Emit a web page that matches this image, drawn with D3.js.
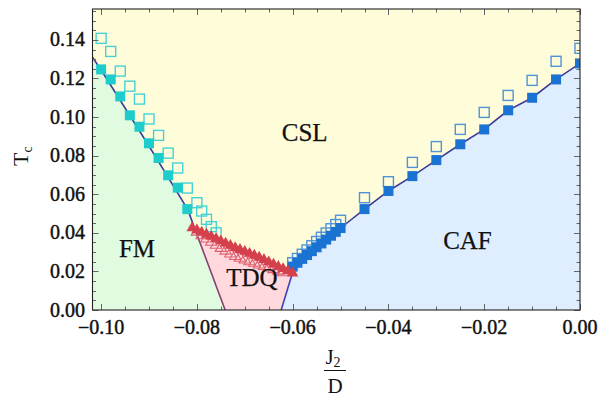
<!DOCTYPE html>
<html><head><meta charset="utf-8">
<script src="https://cdn.jsdelivr.net/npm/d3@7"></script>
<style>body{margin:0;background:#fff}svg{display:block}</style>
</head><body><svg id="c" width="610" height="401"></svg>
<script>
// ---------- data ----------
const xTicks = [-0.10, -0.08, -0.06, -0.04, -0.02, 0.00];
const yTicks = [0.00, 0.02, 0.04, 0.06, 0.08, 0.10, 0.12, 0.14];
const regionLabels = ["CSL", "FM", "TDQ", "CAF"];
const regionLabelX = [-0.0575, -0.0925, -0.0685, -0.0235];
const regionLabelY = [0.0875, 0.0275, 0.0125, 0.0315];

// FM: filled (Tc lower) and open (Tc upper) squares
const fmX      = [-0.100, -0.098, -0.096, -0.094, -0.092, -0.090, -0.088, -0.086, -0.084, -0.082];
const fmFilled = [0.1247, 0.1195, 0.1107, 0.1009, 0.0950, 0.0864, 0.0788, 0.0698, 0.0634, 0.0523];
const fmOpenX  = [-0.100, -0.098, -0.096, -0.094, -0.092, -0.090, -0.088, -0.086, -0.084, -0.082, -0.080, -0.079, -0.078, -0.077, -0.076];
const fmOpen   = [0.1408, 0.1340, 0.1238, 0.1160, 0.1093, 0.0990, 0.0905, 0.0813, 0.0736, 0.0632, 0.0556, 0.0513, 0.0470, 0.0432, 0.0400];

// TDQ: triangles
const tdqX      = [-0.081, -0.080, -0.079, -0.078, -0.077, -0.076, -0.075, -0.074, -0.073, -0.072, -0.071, -0.070, -0.069, -0.068, -0.067, -0.066, -0.065, -0.064, -0.063, -0.062, -0.061, -0.060];
const tdqFilled = [0.0430, 0.0419, 0.0408, 0.0397, 0.0386, 0.0375, 0.0363, 0.0351, 0.0339, 0.0328, 0.0318, 0.0308, 0.0298, 0.0288, 0.0278, 0.0266, 0.0254, 0.0242, 0.0230, 0.0219, 0.0208, 0.0196];
const tdqOpenX  = [-0.080, -0.079, -0.078, -0.077, -0.076, -0.075, -0.074, -0.073, -0.072, -0.071, -0.070, -0.069, -0.068, -0.067, -0.066, -0.065, -0.064, -0.063, -0.062];
const tdqOpen   = [0.0410, 0.0392, 0.0375, 0.0358, 0.0342, 0.0326, 0.0312, 0.0297, 0.0284, 0.0275, 0.0266, 0.0257, 0.0249, 0.0240, 0.0232, 0.0224, 0.0216, 0.0208, 0.0200];

// CAF squares
const cafX      = [-0.060, -0.059, -0.058, -0.057, -0.056, -0.055, -0.054, -0.053, -0.052, -0.051, -0.050, -0.045, -0.040, -0.035, -0.030, -0.025, -0.020, -0.015, -0.010, -0.005, 0.000];
const cafFilled = [0.0225, 0.0245, 0.0265, 0.0285, 0.0305, 0.0325, 0.0345, 0.0365, 0.0385, 0.0405, 0.0425, 0.0523, 0.0617, 0.0694, 0.0777, 0.0859, 0.0936, 0.1035, 0.1100, 0.1195, 0.1278];
const cafOpen   = [0.0245, 0.0267, 0.0289, 0.0311, 0.0333, 0.0355, 0.0377, 0.0399, 0.0421, 0.0443, 0.0465, 0.0582, 0.0665, 0.0765, 0.0847, 0.0936, 0.1024, 0.1112, 0.1190, 0.1289, 0.1356];

// phase boundaries
const fmLineX   = [-0.1018, -0.0999, -0.0900, -0.0819, -0.0806];
const fmLineY   = [0.1310, 0.1240, 0.0850, 0.0520, 0.0432];
const fmTdqX    = [-0.0806, -0.0741];
const fmTdqY    = [0.0432, 0.0000];
const tdqCafX   = [-0.0600, -0.0624];
const tdqCafY   = [0.0196, 0.0000];
const cafLineX  = [-0.0600, -0.0500, -0.0450, -0.0400, -0.0350, -0.0300, -0.0250, -0.0200, -0.0150, -0.0100, -0.0050, 0.0000];
const cafLineY  = [0.0200, 0.0425, 0.0523, 0.0617, 0.0694, 0.0777, 0.0859, 0.0936, 0.1035, 0.1100, 0.1195, 0.1278];

// ---------- drawing ----------
const svg = d3.select("#c");
const L = 92.5, R = 580, T = 9, B = 310;
const x = d3.scaleLinear().domain([-0.1018, 0]).range([L, R]);
const y = d3.scaleLinear().domain([0, 0.156]).range([B, T]);
const serif = "'Liberation Serif','Times New Roman',serif";
const zip = (xs, ys) => xs.map((v, i) => [v, ys[i]]);

const plot = svg.append("g");
svg.append("clipPath").attr("id", "clip").append("rect")
  .attr("x", L).attr("y", T).attr("width", R - L).attr("height", B - T);
plot.attr("clip-path", "url(#clip)");

const poly = d3.line().x(d => x(d[0])).y(d => y(d[1]));
// background CSL
plot.append("rect").attr("x", L).attr("y", T).attr("width", R - L).attr("height", B - T).attr("fill", "#fffdd9");

const fmPts = zip(fmLineX, fmLineY), fmTdq = zip(fmTdqX, fmTdqY), tdqCaf = zip(tdqCafX, tdqCafY), cafPts = zip(cafLineX, cafLineY);
const tdqTop = zip(tdqX, tdqFilled);
const x0 = x.domain()[0], x1 = x.domain()[1];

// FM region
plot.append("path").attr("fill", "#e0fbe0")
  .attr("d", poly([[x0, 0], ...fmPts, ...fmTdq.slice(1)]) + "Z");
// TDQ region
plot.append("path").attr("fill", "#ffd9dd")
  .attr("d", poly([...fmTdq.slice().reverse(), ...tdqTop.slice(1), ...tdqCaf]) + "Z");
// CAF region
plot.append("path").attr("fill", "#deeeff")
  .attr("d", poly([...tdqCaf.slice().reverse(), ...cafPts, [x1, 0]]) + "Z");

// boundary lines
const lineStyle = (p, c) => plot.append("path").attr("d", poly(p)).attr("fill", "none").attr("stroke", c).attr("stroke-width", 1.6);
lineStyle(fmPts, "#3d3b9c");
lineStyle(fmTdq, "#8a3f72");
lineStyle(tdqCaf, "#3e42b8");
lineStyle(cafPts, "#3d3b9c");

// markers
const S = 10;
const sq = (data, fill, stroke) => plot.append("g").selectAll("rect").data(data).join("rect")
  .attr("x", d => x(d[0]) - S / 2).attr("y", d => y(d[1]) - S / 2)
  .attr("width", S).attr("height", S)
  .attr("fill", fill).attr("stroke", stroke).attr("stroke-width", stroke === "none" ? 0 : 1.4);
const triPath = d3.symbol().type(d3.symbolTriangle).size(56);
const tri = (data, fill, stroke) => plot.append("g").selectAll("path").data(data).join("path")
  .attr("d", triPath).attr("transform", d => `translate(${x(d[0])},${y(d[1]) + 1})`)
  .attr("fill", fill).attr("stroke", stroke).attr("stroke-width", stroke === "none" ? 0 : 1.1);

sq(zip(fmOpenX, fmOpen), "none", "#45d2d6");
sq(zip(cafX, cafOpen), "none", "#4f93d8");
tri(zip(tdqOpenX, tdqOpen), "none", "#e0606e");
sq(zip(fmX, fmFilled), "#1ecccc", "none");
sq(zip(cafX, cafFilled), "#1a72d3", "none");
tri(zip(tdqX, tdqFilled), "#d4404c", "none");

// region labels
svg.append("g").selectAll("text").data(regionLabels).join("text")
  .attr("x", (d, i) => x(regionLabelX[i])).attr("y", (d, i) => y(regionLabelY[i]))
  .attr("text-anchor", "middle").attr("font-family", serif).attr("font-size", 25).attr("fill", "#111")
  .attr("stroke", "#111").attr("stroke-width", 0.25)
  .text(d => d);

// frame & ticks
const ax = svg.append("g").attr("stroke", "#666").attr("stroke-width", 1);
const minorX = d3.range(-0.100, 0.0001, 0.005);
const minorY = d3.range(0, 0.1551, 0.005);
const isMajor = (v, step) => Math.abs(v / step - Math.round(v / step)) < 1e-6;
minorX.forEach(v => {
  const len = isMajor(v, 0.02) ? 6 : 3.5, px = Math.round(x(v)) + 0.5;
  ax.append("line").attr("x1", px).attr("x2", px).attr("y1", B).attr("y2", B - len);
  ax.append("line").attr("x1", px).attr("x2", px).attr("y1", T).attr("y2", T + len);
});
minorY.forEach(v => {
  const len = isMajor(v, 0.02) ? 6 : 3.5, py = Math.round(y(v)) + 0.5;
  ax.append("line").attr("y1", py).attr("y2", py).attr("x1", L).attr("x2", L + len);
  ax.append("line").attr("y1", py).attr("y2", py).attr("x1", R).attr("x2", R - len);
});
svg.append("rect").attr("x", L).attr("y", T).attr("width", R - L).attr("height", B - T)
  .attr("fill", "none").attr("stroke", "#222").attr("stroke-width", 1.1);

const fmt = v => (v < 0 ? "\u2212" : "") + Math.abs(v).toFixed(2);
svg.append("g").selectAll("text").data(xTicks).join("text")
  .attr("x", d => x(d)).attr("y", 334).attr("text-anchor", "middle")
  .attr("font-family", serif).attr("font-size", 20).attr("fill", "#111")
  .attr("stroke", "#111").attr("stroke-width", 0.45).text(fmt);
svg.append("g").selectAll("text").data(yTicks).join("text")
  .attr("x", 85).attr("y", d => y(d) + 6.5).attr("text-anchor", "end")
  .attr("font-family", serif).attr("font-size", 20).attr("fill", "#111")
  .attr("stroke", "#111").attr("stroke-width", 0.45).text(fmt);

// axis titles
const yt = svg.append("text").attr("transform", "translate(28,166) rotate(-90)")
  .attr("font-family", serif).attr("font-size", 22).attr("fill", "#111");
yt.append("tspan").text("T");
yt.append("tspan").attr("font-size", 14).attr("dy", 4).text("c");

const xt = svg.append("g").attr("font-family", serif).attr("fill", "#111");
const jt = xt.append("text").attr("x", 333).attr("y", 364).attr("text-anchor", "middle").attr("font-size", 21);
jt.append("tspan").text("J");
jt.append("tspan").attr("font-size", 14).attr("dy", 3).text("2");
xt.append("line").attr("x1", 324).attr("x2", 346).attr("y1", 370.5).attr("y2", 370.5).attr("stroke", "#111").attr("stroke-width", 1);
xt.append("text").attr("x", 335).attr("y", 393).attr("text-anchor", "middle").attr("font-size", 21).text("D");
</script></body></html>
